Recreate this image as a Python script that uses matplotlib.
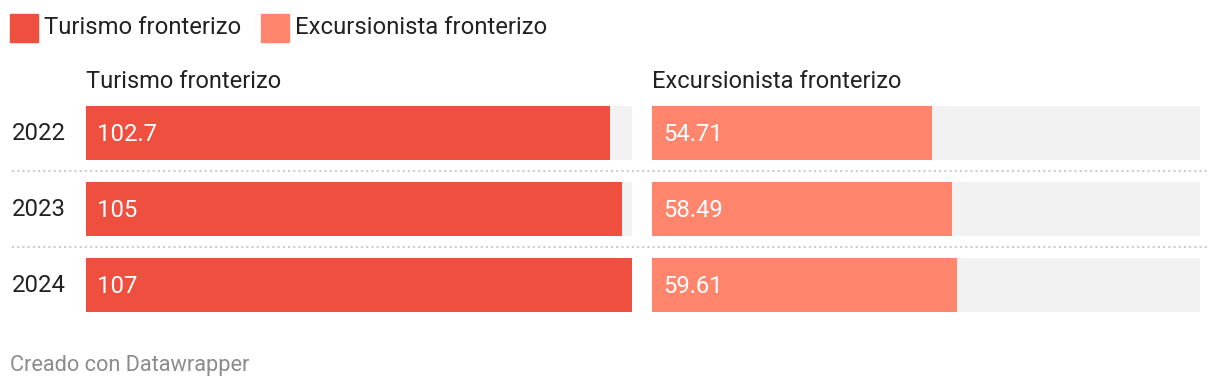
import matplotlib.pyplot as plt
from matplotlib.lines import Line2D
from matplotlib.patches import Rectangle

plt.rcParams['font.family'] = ['Roboto', 'DejaVu Sans']

years = ['2022', '2023', '2024']
turismo = [102.7, 105, 107]
excursion = [54.71, 58.49, 59.61]
turismo_labels = ['102.7', '105', '107']
excursion_labels = ['54.71', '58.49', '59.61']
series_names = ['Turismo fronterizo', 'Excursionista fronterizo']

c_tur = '#ee4f3f'
c_exc = '#ff856c'
c_bg = '#f2f2f2'

W, H = 1220, 390
fig = plt.figure(figsize=(W / 100, H / 100), dpi=100)


def fx(px):
    return px / W


def fy(py):
    return 1 - py / H


xmax = max(max(turismo), max(excursion))

# axes span from top of first row band to bottom of last
top, pitch = 95, 76
panels = [(86, 632, turismo, turismo_labels, c_tur, series_names[0]),
          (652, 1200, excursion, excursion_labels, c_exc, series_names[1])]
for x0, x1, vals, labs, col, name in panels:
    ax = fig.add_axes([fx(x0), fy(top + pitch * 3), fx(x1 - x0), (pitch * 3) / H])
    ax.set_xlim(0, xmax)
    ax.set_ylim(2.5, -0.5)
    ax.axis('off')
    ax.barh(range(len(years)), [xmax] * len(years), height=54 / 76, color=c_bg)
    ax.barh(range(len(years)), vals, height=54 / 76, color=col)
    for i, lab in enumerate(labs):
        ax.text(xmax * 11 / (x1 - x0), i + 0.02, lab, color='white',
                fontsize=17.2, va='center', ha='left')
    fig.text(fx(x0), fy(82), name, fontsize=17, color='#222222',
             va='center', ha='left')

for i, y in enumerate(years):
    fig.text(fx(12), fy(top + pitch * i + 39), y, fontsize=17.2,
             color='#222222', va='center', ha='left')

# dotted separators between rows
for i in range(1, len(years)):
    yy = fy(top + pitch * i)
    fig.add_artist(Line2D([fx(12), fx(1208)], [yy, yy], color='#cccccc',
                          lw=1.5, linestyle=(0, (1, 1.5))))

# legend
lx = 10
for name, col in zip(series_names, [c_tur, c_exc]):
    fig.add_artist(Rectangle((fx(lx), fy(42)), fx(28), 28 / H, color=col,
                             transform=fig.transFigure))
    t = fig.text(fx(lx + 34), fy(27), name, fontsize=17.2, color='#222222',
                 va='center', ha='left')
    fig.canvas.draw()
    bb = t.get_window_extent()
    lx = bb.x1 + 20

fig.text(fx(10), fy(365), 'Creado con Datawrapper', fontsize=15.7,
         color='#8c8c8c', va='center', ha='left')

fig.savefig('out.png', dpi=100)
